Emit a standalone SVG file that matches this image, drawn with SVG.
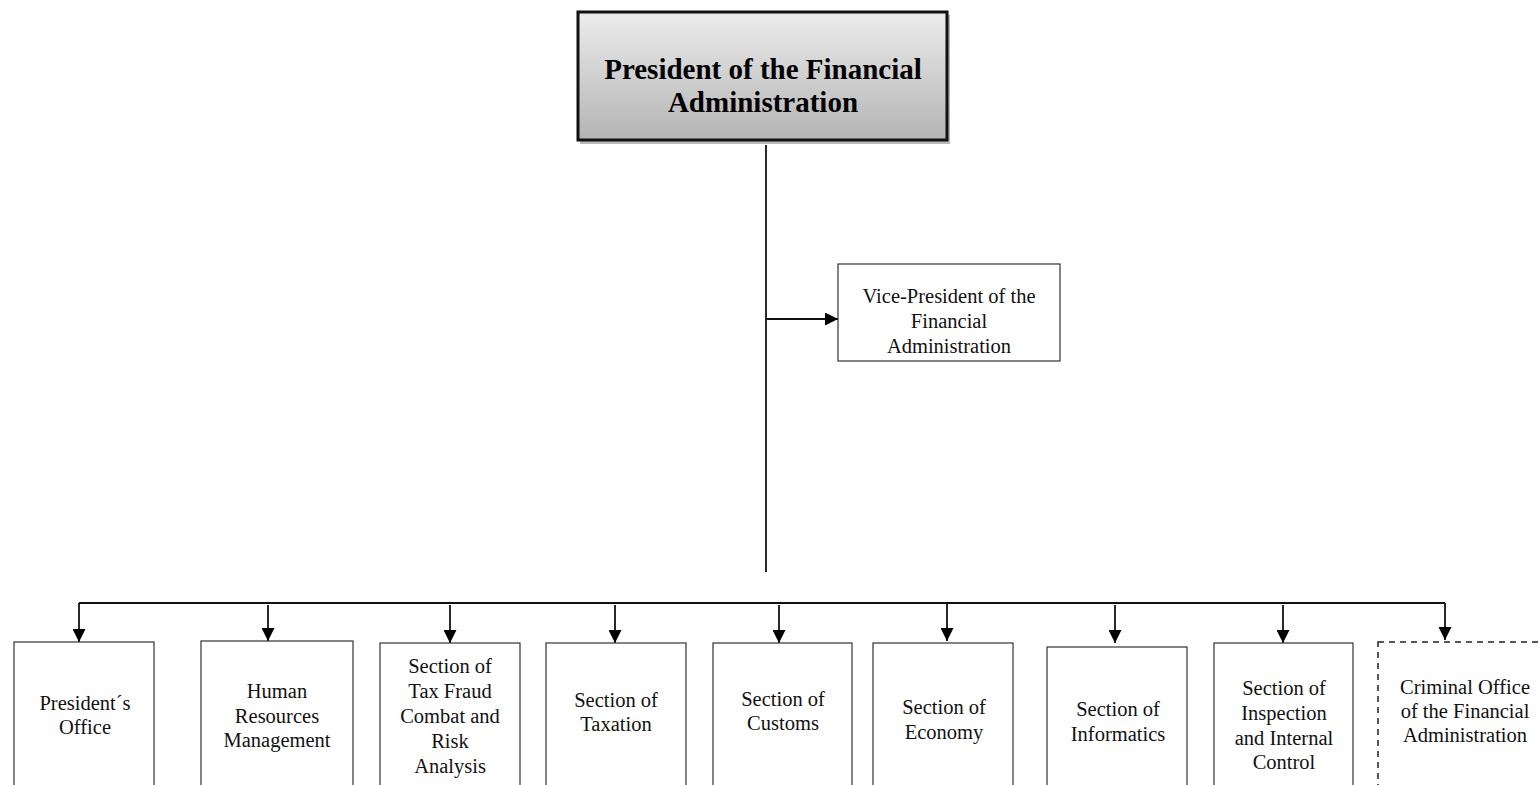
<svg xmlns="http://www.w3.org/2000/svg" width="1539" height="785" viewBox="0 0 1539 785">
<style>
.box{fill:#fff;stroke:#333;stroke-width:1.2}
.dash{fill:#fff;stroke:#222;stroke-width:1.5;stroke-dasharray:6,5}
.t{font-family:"Liberation Serif","Times New Roman",serif;font-size:20.5px;fill:#111;text-anchor:middle}
.title{font-family:"Liberation Serif","Times New Roman",serif;font-size:29px;font-weight:bold;fill:#000;text-anchor:middle}
.ln{stroke:#111;stroke-width:1.8;fill:none}
</style>
<defs>
<linearGradient id="g" x1="0" y1="0" x2="0" y2="1">
<stop offset="0" stop-color="#ececec"/>
<stop offset="1" stop-color="#b4b4b4"/>
</linearGradient>
<marker id="ah" viewBox="0 0 10 10" refX="10" refY="5" markerWidth="7" markerHeight="7" markerUnits="userSpaceOnUse" orient="auto">
<path d="M0,0 L10,5 L0,10 Z" fill="#000"/>
</marker>
<marker id="a" viewBox="0 0 12 12" refX="12" refY="6" markerWidth="13" markerHeight="13" markerUnits="userSpaceOnUse" orient="auto">
<path d="M0,0 L12,6 L0,12 Z" fill="#000"/>
</marker>
</defs>
<g id="connectors">
<line class="ln" x1="766" y1="145" x2="766" y2="572"/>
<line class="ln" x1="766" y1="319" x2="838" y2="319" marker-end="url(#a)"/>
<line class="ln" x1="79" y1="603" x2="1445" y2="603"/>
<line class="ln" x1="79" y1="603" x2="79" y2="642" marker-end="url(#a)"/>
<line class="ln" x1="268" y1="605" x2="268" y2="641" marker-end="url(#a)"/>
<line class="ln" x1="450" y1="605" x2="450" y2="643" marker-end="url(#a)"/>
<line class="ln" x1="615" y1="605" x2="615" y2="643" marker-end="url(#a)"/>
<line class="ln" x1="779" y1="605" x2="779" y2="643" marker-end="url(#a)"/>
<line class="ln" x1="947" y1="603" x2="947" y2="641" marker-end="url(#a)"/>
<line class="ln" x1="1115" y1="605" x2="1115" y2="643" marker-end="url(#a)"/>
<line class="ln" x1="1283" y1="605" x2="1283" y2="643" marker-end="url(#a)"/>
<line class="ln" x1="1445" y1="603" x2="1445" y2="640" marker-end="url(#a)"/>
</g>
<g id="president">
<rect x="580" y="15" width="370" height="129" fill="#8a8a8a" opacity="0.6"/>
<rect x="578" y="12" width="369" height="128" fill="url(#g)" stroke="#111" stroke-width="3"/>
<text class="title" x="763" y="79">President of the Financial</text>
<text class="title" x="763" y="112">Administration</text>
</g>
<g id="vice-president">
<rect class="box" x="838" y="264" width="222" height="97"/>
<text class="t" x="949" y="303">Vice-President of the</text>
<text class="t" x="949" y="328">Financial</text>
<text class="t" x="949" y="353">Administration</text>
</g>
<g id="presidents-office">
<rect class="box" x="14" y="642" width="140" height="160"/>
<text class="t" x="85" y="710">President´s</text>
<text class="t" x="85" y="734">Office</text>
</g>
<g id="human-resources">
<rect class="box" x="201" y="641" width="152" height="160"/>
<text class="t" x="277" y="698">Human</text>
<text class="t" x="277" y="723">Resources</text>
<text class="t" x="277" y="747">Management</text>
</g>
<g id="tax-fraud">
<rect class="box" x="380" y="643" width="140" height="160"/>
<text class="t" x="450" y="673">Section of</text>
<text class="t" x="450" y="698">Tax Fraud</text>
<text class="t" x="450" y="723">Combat and</text>
<text class="t" x="450" y="748">Risk</text>
<text class="t" x="450" y="773">Analysis</text>
</g>
<g id="taxation">
<rect class="box" x="546" y="643" width="140" height="160"/>
<text class="t" x="616" y="707">Section of</text>
<text class="t" x="616" y="731">Taxation</text>
</g>
<g id="customs">
<rect class="box" x="713" y="643" width="139" height="160"/>
<text class="t" x="783" y="706">Section of</text>
<text class="t" x="783" y="730">Customs</text>
</g>
<g id="economy">
<rect class="box" x="873" y="643" width="140" height="160"/>
<text class="t" x="944" y="714">Section of</text>
<text class="t" x="944" y="739">Economy</text>
</g>
<g id="informatics">
<rect class="box" x="1047" y="647" width="140" height="160"/>
<text class="t" x="1118" y="716">Section of</text>
<text class="t" x="1118" y="741">Informatics</text>
</g>
<g id="inspection">
<rect class="box" x="1214" y="643" width="139" height="160"/>
<text class="t" x="1284" y="695">Section of</text>
<text class="t" x="1284" y="720">Inspection</text>
<text class="t" x="1284" y="745">and Internal</text>
<text class="t" x="1284" y="769">Control</text>
</g>
<g id="criminal-office">
<rect class="dash" x="1378" y="642" width="200" height="160"/>
<text class="t" x="1465" y="694">Criminal Office</text>
<text class="t" x="1465" y="718">of the Financial</text>
<text class="t" x="1465" y="742">Administration</text>
</g>
</svg>
